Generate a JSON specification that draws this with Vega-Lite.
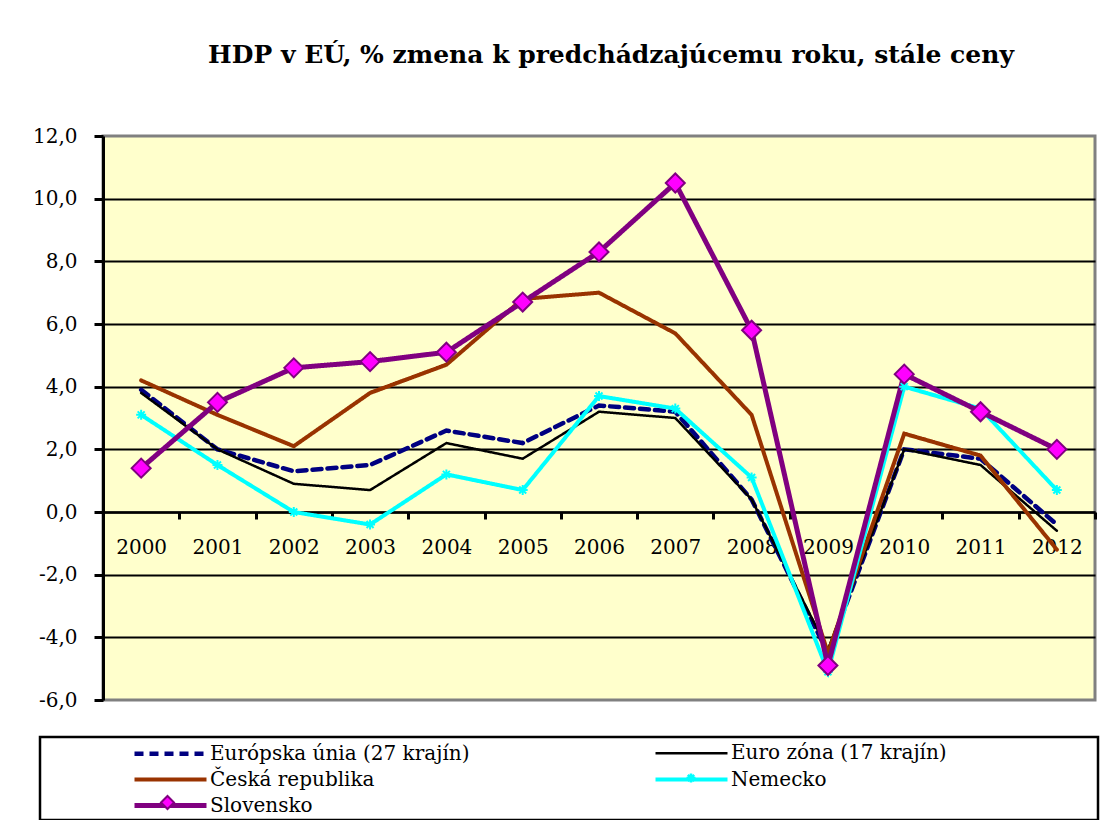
{
  "$schema": "https://vega.github.io/schema/vega-lite/v6.json",
  "width": 992,
  "height": 564,
  "autosize": {"type": "none"},
  "padding": {"left": 103, "top": 136, "right": 7, "bottom": 120},
  "background": "white",
  "title": {
    "text": "HDP v EÚ, % zmena k predchádzajúcemu roku, stále ceny",
    "font": "DejaVu Serif",
    "fontSize": 25,
    "fontWeight": "bold",
    "color": "black",
    "anchor": "middle",
    "frame": "group",
    "dx": 12,
    "offset": 58
  },
  "config": {
    "view": {"fill": "#FFFFCC", "stroke": "#808080", "strokeWidth": 3},
    "legend": {"strokeWidth": 2.5}
  },
  "data": {
    "values": [
      {"year": "2000", "series": "Európska únia (27 krajín)", "value": 3.9},
      {"year": "2001", "series": "Európska únia (27 krajín)", "value": 2.0},
      {"year": "2002", "series": "Európska únia (27 krajín)", "value": 1.3},
      {"year": "2003", "series": "Európska únia (27 krajín)", "value": 1.5},
      {"year": "2004", "series": "Európska únia (27 krajín)", "value": 2.6},
      {"year": "2005", "series": "Európska únia (27 krajín)", "value": 2.2},
      {"year": "2006", "series": "Európska únia (27 krajín)", "value": 3.4},
      {"year": "2007", "series": "Európska únia (27 krajín)", "value": 3.2},
      {"year": "2008", "series": "Európska únia (27 krajín)", "value": 0.4},
      {"year": "2009", "series": "Európska únia (27 krajín)", "value": -4.5},
      {"year": "2010", "series": "Európska únia (27 krajín)", "value": 2.0},
      {"year": "2011", "series": "Európska únia (27 krajín)", "value": 1.7},
      {"year": "2012", "series": "Európska únia (27 krajín)", "value": -0.4},
      {"year": "2000", "series": "Euro zóna (17 krajín)", "value": 3.8},
      {"year": "2001", "series": "Euro zóna (17 krajín)", "value": 2.0},
      {"year": "2002", "series": "Euro zóna (17 krajín)", "value": 0.9},
      {"year": "2003", "series": "Euro zóna (17 krajín)", "value": 0.7},
      {"year": "2004", "series": "Euro zóna (17 krajín)", "value": 2.2},
      {"year": "2005", "series": "Euro zóna (17 krajín)", "value": 1.7},
      {"year": "2006", "series": "Euro zóna (17 krajín)", "value": 3.2},
      {"year": "2007", "series": "Euro zóna (17 krajín)", "value": 3.0},
      {"year": "2008", "series": "Euro zóna (17 krajín)", "value": 0.4},
      {"year": "2009", "series": "Euro zóna (17 krajín)", "value": -4.4},
      {"year": "2010", "series": "Euro zóna (17 krajín)", "value": 2.0},
      {"year": "2011", "series": "Euro zóna (17 krajín)", "value": 1.5},
      {"year": "2012", "series": "Euro zóna (17 krajín)", "value": -0.6},
      {"year": "2000", "series": "Česká republika", "value": 4.2},
      {"year": "2001", "series": "Česká republika", "value": 3.1},
      {"year": "2002", "series": "Česká republika", "value": 2.1},
      {"year": "2003", "series": "Česká republika", "value": 3.8},
      {"year": "2004", "series": "Česká republika", "value": 4.7},
      {"year": "2005", "series": "Česká republika", "value": 6.8},
      {"year": "2006", "series": "Česká republika", "value": 7.0},
      {"year": "2007", "series": "Česká republika", "value": 5.7},
      {"year": "2008", "series": "Česká republika", "value": 3.1},
      {"year": "2009", "series": "Česká republika", "value": -4.5},
      {"year": "2010", "series": "Česká republika", "value": 2.5},
      {"year": "2011", "series": "Česká republika", "value": 1.8},
      {"year": "2012", "series": "Česká republika", "value": -1.2},
      {"year": "2000", "series": "Nemecko", "value": 3.1},
      {"year": "2001", "series": "Nemecko", "value": 1.5},
      {"year": "2002", "series": "Nemecko", "value": 0.0},
      {"year": "2003", "series": "Nemecko", "value": -0.4},
      {"year": "2004", "series": "Nemecko", "value": 1.2},
      {"year": "2005", "series": "Nemecko", "value": 0.7},
      {"year": "2006", "series": "Nemecko", "value": 3.7},
      {"year": "2007", "series": "Nemecko", "value": 3.3},
      {"year": "2008", "series": "Nemecko", "value": 1.1},
      {"year": "2009", "series": "Nemecko", "value": -5.1},
      {"year": "2010", "series": "Nemecko", "value": 4.0},
      {"year": "2011", "series": "Nemecko", "value": 3.3},
      {"year": "2012", "series": "Nemecko", "value": 0.7},
      {"year": "2000", "series": "Slovensko", "value": 1.4},
      {"year": "2001", "series": "Slovensko", "value": 3.5},
      {"year": "2002", "series": "Slovensko", "value": 4.6},
      {"year": "2003", "series": "Slovensko", "value": 4.8},
      {"year": "2004", "series": "Slovensko", "value": 5.1},
      {"year": "2005", "series": "Slovensko", "value": 6.7},
      {"year": "2006", "series": "Slovensko", "value": 8.3},
      {"year": "2007", "series": "Slovensko", "value": 10.5},
      {"year": "2008", "series": "Slovensko", "value": 5.8},
      {"year": "2009", "series": "Slovensko", "value": -4.9},
      {"year": "2010", "series": "Slovensko", "value": 4.4},
      {"year": "2011", "series": "Slovensko", "value": 3.2},
      {"year": "2012", "series": "Slovensko", "value": 2.0}
    ]
  },
  "encoding": {
    "x": {
      "field": "year",
      "type": "nominal",
      "sort": null,
      "scale": {"type": "band", "paddingInner": 0, "paddingOuter": 0},
      "axis": {
        "title": null,
        "offset": -188,
        "labelAngle": 0,
        "tickBand": "extent",
        "grid": false,
        "domainColor": "black",
        "domainWidth": 2.5,
        "tickColor": "black",
        "tickWidth": 3,
        "tickSize": 7,
        "labelFont": "DejaVu Serif",
        "labelFontSize": 20,
        "labelColor": "black",
        "labelPadding": 18
      }
    },
    "y": {
      "field": "value",
      "type": "quantitative",
      "scale": {"domain": [-6, 12], "nice": false, "zero": false},
      "axis": {
        "title": null,
        "values": [-6, -4, -2, 0, 2, 4, 6, 8, 10, 12],
        "labelExpr": "(datum.value < 0 ? '-' : '') + replace(format(abs(datum.value), '.1f'), '.', ',')",
        "grid": true,
        "gridColor": "black",
        "gridWidth": 2,
        "gridOpacity": {"condition": {"test": "datum.value === 12 || datum.value === -6", "value": 0}, "value": 1},
        "domainColor": "black",
        "domainWidth": 3,
        "tickColor": "black",
        "tickWidth": 3,
        "tickSize": 9,
        "labelFont": "DejaVu Serif",
        "labelFontSize": 20,
        "labelColor": "black",
        "labelPadding": 17
      }
    }
  },
  "layer": [
    {
      "mark": {"type": "line", "strokeCap": "round"},
      "encoding": {
        "color": {
          "field": "series",
          "type": "nominal",
          "scale": {
            "domain": ["Európska únia (27 krajín)", "Euro zóna (17 krajín)", "Česká republika", "Nemecko", "Slovensko"],
            "range": ["#000080", "#000000", "#993300", "#00FFFF", "#800080"]
          },
          "legend": {
            "orient": "none",
            "direction": "horizontal",
            "legendX": -63,
            "legendY": 601,
            "columns": 2,
            "title": " ",
            "titleOrient": "left",
            "titleFontSize": 1,
            "titlePadding": 88,
            "padding": 4,
            "strokeColor": "black",
            "symbolType": "M-1,0L6.2,0",
            "symbolSize": 400,
            "labelFont": "DejaVu Serif",
            "labelFontSize": 20,
            "labelColor": "black",
            "labelOffset": 53,
            "labelLimit": 3000,
            "rowPadding": 3.5,
            "columnPadding": 177,
            "labelExpr": "datum.label == 'Nemecko' ? 'Nemecko' + '\u00a0\u00a0\u00a0\u00a0\u00a0\u00a0\u00a0\u00a0\u00a0\u00a0\u00a0\u00a0\u00a0\u00a0\u00a0\u00a0\u00a0\u00a0\u00a0\u00a0\u00a0\u00a0\u00a0\u00a0\u00a0\u00a0\u00a0\u00a0\u00a0\u00a0\u00a0\u00a0\u00a0\u00a0\u00a0\u00a0\u00a0\u00a0\u00a0\u00a0\u00a0\u00a0\u200b' : datum.label"
          }
        },
        "strokeDash": {
          "field": "series",
          "type": "nominal",
          "scale": {
            "domain": ["Európska únia (27 krajín)", "Euro zóna (17 krajín)", "Česká republika", "Nemecko", "Slovensko"],
            "range": [[9, 6], [1, 0], [1, 0], [1, 0], [1, 0]]
          }
        },
        "strokeWidth": {
          "field": "series",
          "type": "nominal",
          "scale": {
            "type": "ordinal",
            "domain": ["Európska únia (27 krajín)", "Euro zóna (17 krajín)", "Česká republika", "Nemecko", "Slovensko"],
            "range": [4.5, 2.5, 4, 4, 5]
          }
        }
      }
    },
    {
      "transform": [{"filter": "datum.series === 'Nemecko'"}],
      "mark": {
        "type": "point",
        "shape": "M-1,0L1,0M0,-1L0,1M-0.7,-0.7L0.7,0.7M-0.7,0.7L0.7,-0.7",
        "size": 100,
        "strokeWidth": 2,
        "filled": false,
        "opacity": 1
      },
      "encoding": {
        "stroke": {
          "field": "series",
          "type": "nominal",
          "scale": {"domain": ["Nemecko"], "range": ["#00FFFF"]},
          "legend": {
            "orient": "none",
            "legendX": 582,
            "legendY": 636,
            "title": null,
            "padding": 0,
            "labelExpr": "''",
            "symbolType": "M-1,0L1,0M0,-1L0,1M-0.7,-0.7L0.7,0.7M-0.7,0.7L0.7,-0.7",
            "symbolSize": 81,
            "symbolStrokeWidth": 2.5
          }
        }
      }
    },
    {
      "transform": [{"filter": "datum.series === 'Slovensko'"}],
      "mark": {
        "type": "point",
        "shape": "diamond",
        "size": 361,
        "filled": true,
        "stroke": "#800080",
        "strokeWidth": 2,
        "opacity": 1
      },
      "encoding": {
        "fill": {
          "field": "series",
          "type": "nominal",
          "scale": {"domain": ["Slovensko"], "range": ["#FF00FF"]},
          "legend": {
            "orient": "none",
            "legendX": 57,
            "legendY": 659,
            "title": null,
            "padding": 0,
            "labelExpr": "''",
            "symbolType": "diamond",
            "symbolSize": 169,
            "symbolStrokeColor": "#800080",
            "symbolStrokeWidth": 2
          }
        }
      }
    }
  ]
}
